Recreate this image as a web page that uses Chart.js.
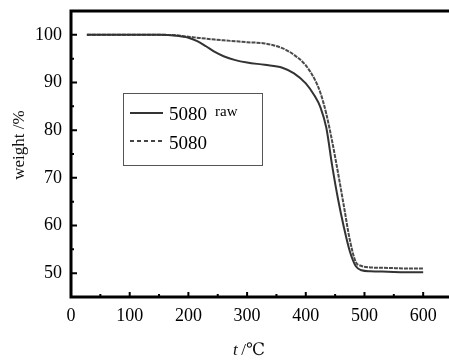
<!DOCTYPE html>
<html>
<head>
<meta charset="utf-8">
<script src="https://cdn.jsdelivr.net/npm/chart.js@4"></script>
<style>
    html, body { margin: 0; padding: 0; background: #fff; }
    #wrap { width: 449px; height: 360px; }
</style>
</head>
<body>
<div id="wrap"><canvas id="tgChart" width="449" height="360"></canvas></div>
<script>
// 温度 (°C)
const temps = [27, 100, 150, 180, 200, 215, 230, 245, 260, 280, 300, 330, 360, 380, 400, 415, 425, 435, 445, 455, 465, 475, 485, 495, 510, 540, 570, 600];
// 5080 raw 失重曲线 (%)
const rawWeight = [100, 100, 100, 99.8, 99.4, 98.7, 97.6, 96.4, 95.5, 94.7, 94.2, 93.7, 93.1, 91.9, 89.8, 87.2, 84.8, 80.5, 72.5, 65.5, 59.6, 54.6, 51.5, 50.6, 50.4, 50.3, 50.2, 50.2];
// 5080 失重曲线 (%)
const treatedWeight = [100, 100, 100, 99.9, 99.6, 99.4, 99.2, 99.0, 98.85, 98.65, 98.45, 98.2, 97.2, 95.8, 93.6, 90.7, 87.8, 83.4, 77.6, 71, 64, 57, 52.4, 51.5, 51.2, 51.1, 51.0, 51.0];

const seriesNames = ['5080', '5080'];
const xTicks = [0, 100, 200, 300, 400, 500, 600];
const xMinorTicks = [50, 150, 250, 350, 450, 550];
const yTicks = [50, 60, 70, 80, 90, 100];
const yMinorTicks = [55, 65, 75, 85, 95];

const serif = '"Liberation Serif", "DejaVu Serif", serif';

function toPoints(xs, ys) {
    return xs.map((x, i) => ({ x: x, y: ys[i] }));
}

/**
 * 坐标框、内向刻度、轴标题和图例
 */
const framePlugin = {
    id: 'frame',
    afterDraw(chart) {
        const ctx = chart.ctx;
        const area = chart.chartArea;
        const xs = chart.scales.x;
        const ys = chart.scales.y;
        ctx.save();

        // 刻度线
        ctx.strokeStyle = '#000';
        ctx.lineWidth = 2;
        ctx.beginPath();
        yTicks.forEach(v => {
            const py = ys.getPixelForValue(v);
            ctx.moveTo(area.left, py);
            ctx.lineTo(area.left + 6, py);
        });
        yMinorTicks.forEach(v => {
            const py = ys.getPixelForValue(v);
            ctx.moveTo(area.left, py);
            ctx.lineTo(area.left + 3, py);
        });
        xTicks.forEach(v => {
            const px = xs.getPixelForValue(v);
            ctx.moveTo(px, area.bottom);
            ctx.lineTo(px, area.bottom - 5);
        });
        xMinorTicks.forEach(v => {
            const px = xs.getPixelForValue(v);
            ctx.moveTo(px, area.bottom);
            ctx.lineTo(px, area.bottom - 3);
        });
        ctx.stroke();

        // 坐标框 (左、上、下)
        ctx.lineWidth = 3;
        ctx.beginPath();
        ctx.moveTo(chart.width, area.top);
        ctx.lineTo(area.left, area.top);
        ctx.lineTo(area.left, area.bottom);
        ctx.lineTo(chart.width, area.bottom);
        ctx.stroke();

        // Y 轴标题
        ctx.fillStyle = '#111';
        ctx.font = '17px ' + serif;
        ctx.textAlign = 'center';
        ctx.textBaseline = 'middle';
        ctx.save();
        ctx.translate(20, 145);
        ctx.rotate(-Math.PI / 2);
        ctx.fillText('weight /%', 0, 0);
        ctx.restore();

        // X 轴标题
        ctx.textAlign = 'left';
        ctx.textBaseline = 'alphabetic';
        ctx.font = 'italic 17px ' + serif;
        ctx.fillText('t', 233, 355);
        ctx.font = '17px ' + serif;
        ctx.fillText(' /\u2103', 237, 355);

        // 图例
        const lx = 123, ly = 93, lw = 139, lh = 72;
        ctx.strokeStyle = '#555';
        ctx.lineWidth = 1;
        ctx.strokeRect(lx + 0.5, ly + 0.5, lw, lh);

        ctx.lineWidth = 2;
        ctx.strokeStyle = '#333';
        ctx.beginPath();
        ctx.moveTo(130, 113);
        ctx.lineTo(163, 113);
        ctx.stroke();

        ctx.strokeStyle = '#444';
        ctx.setLineDash([4, 3]);
        ctx.beginPath();
        ctx.moveTo(130, 141);
        ctx.lineTo(163, 141);
        ctx.stroke();
        ctx.setLineDash([]);

        ctx.fillStyle = '#000';
        ctx.font = '19px ' + serif;
        ctx.fillText(seriesNames[0], 169, 120);
        ctx.fillText(seriesNames[1], 169, 149);
        ctx.font = '15px ' + serif;
        ctx.fillText('raw', 215, 116);

        ctx.restore();
    }
};

const ctx = document.getElementById('tgChart').getContext('2d');
new Chart(ctx, {
    type: 'line',
    data: {
        datasets: [
            {
                label: '5080 raw',
                data: toPoints(temps, rawWeight),
                borderColor: '#333',
                borderWidth: 2,
                pointRadius: 0,
                cubicInterpolationMode: 'monotone',
                fill: false
            },
            {
                label: '5080',
                data: toPoints(temps, treatedWeight),
                borderColor: '#4a4a4a',
                borderWidth: 2,
                borderDash: [4, 1],
                pointRadius: 0,
                cubicInterpolationMode: 'monotone',
                fill: false
            }
        ]
    },
    options: {
        responsive: false,
        animation: false,
        layout: { padding: { top: 11, right: 0, left: 0, bottom: 0 } },
        plugins: {
            legend: { display: false },
            tooltip: { enabled: false }
        },
        scales: {
            x: {
                type: 'linear',
                min: 0,
                max: 644,
                grid: { display: false, drawTicks: false },
                border: { display: false },
                afterBuildTicks: scale => { scale.ticks = xTicks.map(v => ({ value: v })); },
                afterFit: scale => {
                    scale.height = 63;
                    scale.paddingLeft = 0;
                    scale.paddingRight = 0;
                },
                ticks: {
                    color: '#000',
                    padding: 8,
                    maxRotation: 0,
                    font: { family: serif, size: 18 }
                }
            },
            y: {
                type: 'linear',
                min: 45,
                max: 105,
                grid: { display: false, drawTicks: false },
                border: { display: false },
                afterBuildTicks: scale => { scale.ticks = yTicks.map(v => ({ value: v })); },
                afterFit: scale => {
                    scale.width = 71;
                    scale.paddingTop = 0;
                    scale.paddingBottom = 0;
                },
                ticks: {
                    color: '#000',
                    padding: 9,
                    font: { family: serif, size: 18 }
                }
            }
        }
    },
    plugins: [framePlugin]
});
</script>
</body>
</html>
